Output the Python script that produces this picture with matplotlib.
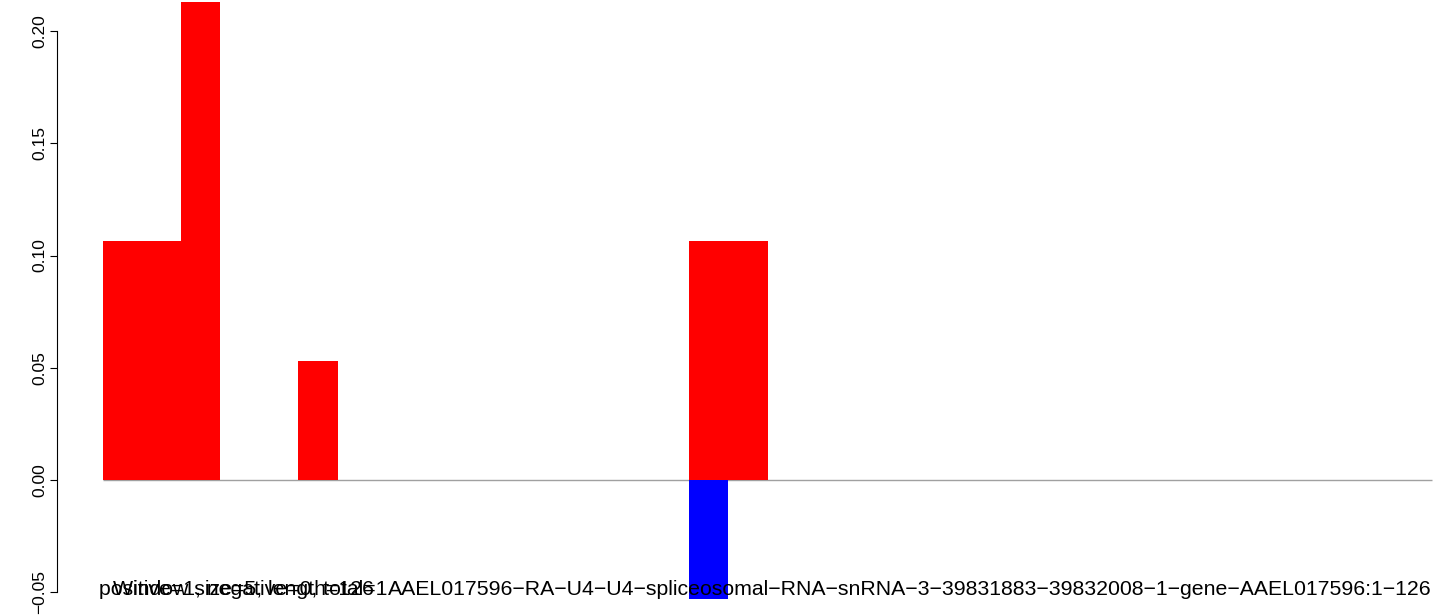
import matplotlib
matplotlib.use('Agg')
import matplotlib.pyplot as plt
import numpy as np

plt.rcParams['font.family'] = ['Liberation Sans', 'DejaVu Sans']

# values per window (34 windows), positive strand red, negative strand blue
positive = [0.1065, 0.1065, 0.2128, 0, 0, 0.0532, 0, 0, 0, 0,
            0, 0, 0, 0, 0, 0.1065, 0.1065, 0, 0, 0,
            0, 0, 0, 0, 0, 0, 0, 0, 0, 0,
            0, 0, 0, 0]
negative = [0, 0, 0, 0, 0, 0, 0, 0, 0, 0,
            0, 0, 0, 0, 0, -0.0532, 0, 0, 0, 0,
            0, 0, 0, 0, 0, 0, 0, 0, 0, 0,
            0, 0, 0, 0]
yticks = [-0.05, 0.00, 0.05, 0.10, 0.15, 0.20]
counts_label = "positive=1, negative=0, total=1"
window_label = "Window size=5, length=126"
seq_name = "AAEL017596-RA-U4-U4-spliceosomal-RNA-snRNA-3-39831883-39832008-1-gene-AAEL017596:1-126"

W, H, DPI = 1444, 615, 100
fig = plt.figure(figsize=(W / DPI, H / DPI), dpi=DPI)
ax = fig.add_axes([0, 0, 1, 1])

n = len(positive)
x = np.arange(n)
bw = 39.09  # px per bar
x0 = 103    # px of first bar edge
ax.set_xlim(-x0 / bw, (W - x0) / bw)
# y: 0.00 at 480 px, 0.05 per 112.25 px
ppu = 112.25 / 0.05
ax.set_ylim(-(H - 480) / ppu, 480 / ppu)

ax.hlines(0, 0, n, color='#a0a0a0', lw=1.0, zorder=1)
ax.bar(x, positive, width=1.0, align='edge', color='red', lw=0, zorder=2)
ax.bar(x, negative, width=1.0, align='edge', color='blue', lw=0, zorder=2)

for s in ['top', 'right', 'bottom']:
    ax.spines[s].set_visible(False)
ax.spines['left'].set_position(('data', (57 - x0) / bw))
ax.spines['left'].set_bounds(yticks[0], yticks[-1])
ax.spines['left'].set_linewidth(0.8)
ax.set_xticks([])
ax.set_yticks(yticks)
ax.set_yticklabels([f"{v:.2f}".replace('-', '\u2212') for v in yticks],
                   rotation=90, va='center', fontsize=12.5)
ax.tick_params(axis='y', length=5, width=0.8, pad=2)

# overlapping captions at the bottom, as in the original R output
ty = 1 - 595 / H
fs = 15.35
fig.text(99 / W, ty, counts_label, fontsize=fs, va='baseline', ha='left', color='black')
fig.text(113 / W, ty, window_label, fontsize=fs, va='baseline', ha='left', color='black')
fig.text(1432 / W, ty, seq_name.replace('-', '\u2212'), fontsize=fs,
         va='baseline', ha='right', color='black', zorder=3)

fig.savefig('out.png', dpi=DPI)
